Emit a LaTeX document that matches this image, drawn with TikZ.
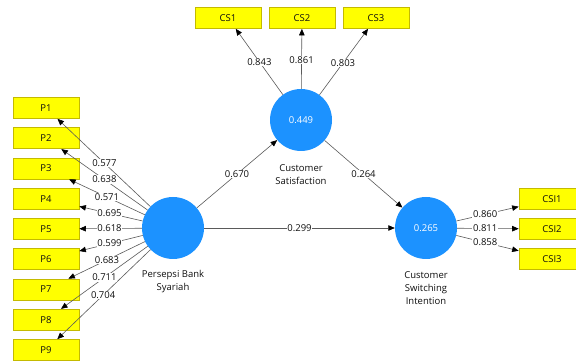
\documentclass[tikz,border=0pt]{standalone}
\usepackage{fontspec}
\setmainfont{Open Sans}
\usetikzlibrary{arrows.meta,calc}
\definecolor{indfill}{RGB}{255,255,0}
\definecolor{indline}{RGB}{196,186,0}
\definecolor{lvfill}{RGB}{28,146,255}
\definecolor{pathline}{RGB}{90,90,90}
\definecolor{txt}{RGB}{15,15,15}
\tikzset{
  ind/.style={draw=indline, fill=indfill, line width=0.7pt, minimum width=66pt,
    minimum height=21pt, inner sep=0pt, text=txt, font=\fontsize{9.5}{11}\selectfont},
  latent/.style={circle, fill=lvfill, minimum size=62pt, inner sep=0pt, text=white,
    font=\fontsize{9.5}{11}\selectfont},
  conn/.style={draw=pathline, line width=0.6pt,
    -{Triangle[length=6.5pt,width=5.5pt,color=black]}},
  wt/.style={fill=white, inner sep=0.6pt, text=txt, font=\fontsize{9.5}{11}\selectfont},
  lvname/.style={align=center, text=txt, font=\fontsize{9.5}{13}\selectfont}
}
\begin{document}
\begin{tikzpicture}[x=1pt,y=-1pt]
\useasboundingbox (0,0) rectangle (576,363);
\begin{scope}
\clip (0,0) rectangle (576,363);

% latent variables
\node[latent] (pb)  at (173,228) {};
\node[latent] (cs)  at (301,120) {0.449};
\node[latent] (csi) at (426,228) {0.265};

\node[lvname] (pbname)  at (173,282) {Persepsi Bank\\Syariah};
\node[lvname] (csname)  at (301,175) {Customer\\Satisfaction};
\node[lvname] (csiname) at (426,288) {Customer\\Switching\\Intention};

% indicators of Persepsi Bank Syariah
\foreach \i in {1,...,9}
  \node[ind] (P\i) at (46,{108+30.25*(\i-1)}) {P\i};

% indicators of Customer Satisfaction
\node[ind] (CS1) at (228,18) {CS1};
\node[ind] (CS2) at (302,18) {CS2};
\node[ind] (CS3) at (376,18) {CS3};

% indicators of Customer Switching Intention
\node[ind] (CSI1) at (552,199) {CSI1};
\node[ind] (CSI2) at (552,229) {CSI2};
\node[ind] (CSI3) at (552,259) {CSI3};

% outer loadings
\foreach \i in {1,...,9}
  \draw[conn] (pb) -- (P\i);
\foreach \i in {1,2,3}
  \draw[conn] (cs) -- (CS\i);
\foreach \i in {1,2,3}
  \draw[conn] (csi) -- (CSI\i);

% structural paths
\draw[conn] (pb) -- (cs);
\draw[conn] (pb) -- (csi);
\draw[conn] (cs) -- (csi);

% coefficient labels
\foreach \i/\f/\v in {1/0.54/0.577, 2/0.54/0.638, 3/0.52/0.571, 4/0.50/0.695,
    5/0.50/0.618, 6/0.50/0.599, 7/0.52/0.683, 8/0.54/0.711, 9/0.55/0.704}
  \node[wt] (lp\i) at ($(pb)!\f!(P\i)$) {\v};
\node[wt] (lcs1) at ($(cs)!0.57!(CS1)$) {0.843};
\node[wt] (lcs2) at ($(cs)!0.59!(CS2)$) {0.861};
\node[wt] (lcs3) at ($(cs)!0.56!(CS3)$) {0.803};
\node[wt] (lcsi1) at ($(csi)!0.47!(CSI1)$) {0.860};
\node[wt] (lcsi2) at ($(csi)!0.47!(CSI2)$) {0.811};
\node[wt] (lcsi3) at ($(csi)!0.47!(CSI3)$) {0.858};
\node[wt] (lpbcs)  at ($(pb)!0.5!(cs)$)  {0.670};
\node[wt] (lpbcsi) at ($(pb)!0.5!(csi)$) {0.299};
\node[wt] (lcscsi) at ($(cs)!0.5!(csi)$) {0.264};
\end{scope}
\end{tikzpicture}
\end{document}
